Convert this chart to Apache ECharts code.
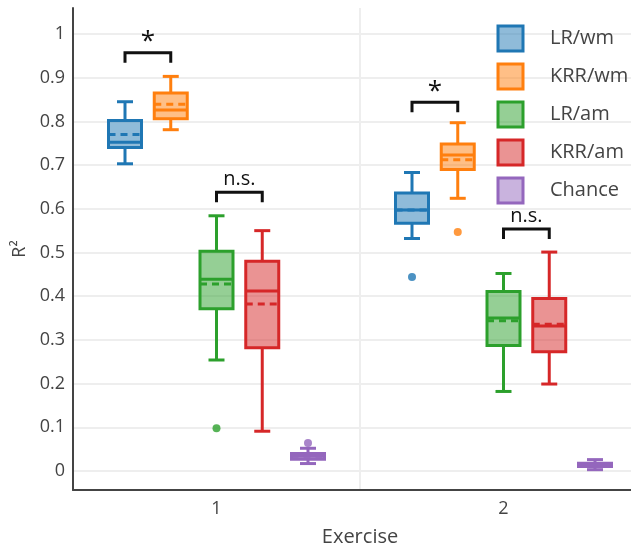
<!DOCTYPE html>
<html>
<head>
<meta charset="utf-8">
<script src="https://cdn.jsdelivr.net/npm/echarts@6/dist/echarts.min.js"></script>
<style>
  html, body { margin: 0; padding: 0; background: #fff; }
  #main { width: 631px; height: 548px; }
</style>
</head>
<body>
<div id="main"></div>
<script>
// exercises on the x axis
var categories = ['1', '2'];
var seriesNames = ['LR/wm', 'KRR/wm', 'LR/am', 'KRR/am', 'Chance'];

// box stats per exercise: [min, q1, median, q3, max]
var lrWm   = [[0.703, 0.740, 0.752, 0.802, 0.845], [0.532, 0.567, 0.597, 0.636, 0.683]];
var krrWm  = [[0.781, 0.806, 0.826, 0.865, 0.903], [0.624, 0.690, 0.723, 0.748, 0.797]];
var lrAm   = [[0.254, 0.371, 0.439, 0.503, 0.584], [0.182, 0.287, 0.350, 0.411, 0.452]];
var krrAm  = [[0.091, 0.282, 0.412, 0.480, 0.550], [0.199, 0.273, 0.332, 0.395, 0.501]];
var chance = [[0.017, 0.027, 0.034, 0.040, 0.052], [0.003, 0.010, 0.014, 0.018, 0.026]];

// means (dashed line)
var lrWmMean   = [0.770, 0.597];
var krrWmMean  = [0.839, 0.712];
var lrAmMean   = [0.428, 0.344];
var krrAmMean  = [0.382, 0.336];
var chanceMean = [0.034, 0.014];

// outliers: [exercise index, value]
var lrWmOut   = [[1, 0.444]];
var krrWmOut  = [[1, 0.547]];
var lrAmOut   = [[0, 0.098]];
var krrAmOut  = [];
var chanceOut = [[0, 0.064]];

// significance brackets
var bracketCat  = [0, 0, 1, 1];
var bracketFrom = [0, 2, 0, 2];
var bracketTo   = [1, 3, 1, 3];
var bracketY    = [0.957, 0.638, 0.844, 0.554];
var bracketText = ['*', 'n.s.', '*', 'n.s.'];

var colors = ['#1f77b4', '#ff7f0e', '#2ca02c', '#d62728', '#9467bd'];
var fills = ['rgba(31,119,180,0.5)', 'rgba(255,127,14,0.5)', 'rgba(44,160,44,0.5)',
             'rgba(214,39,40,0.5)', 'rgba(148,103,189,0.5)'];
var statsList = [lrWm, krrWm, lrAm, krrAm, chance];
var meanList = [lrWmMean, krrWmMean, lrAmMean, krrAmMean, chanceMean];
var outList = [lrWmOut, krrWmOut, lrAmOut, krrAmOut, chanceOut];

var FONT = '"Open Sans", "DejaVu Sans", sans-serif';
var step = 45.75;   // px between boxes in a group
var boxW = 16.5;    // half box width
var capW = 8;       // half cap width

var myChart = echarts.init(document.getElementById('main'));

function boxSeries(k) {
    var color = colors[k];
    return {
        name: seriesNames[k],
        type: 'custom',
        z: 3,
        data: statsList[k].map(function (s, i) {
            return [i].concat(s, [meanList[k][i]]);
        }),
        encode: { x: 0, y: [1, 2, 3, 4, 5, 6] },
        renderItem: function (params, api) {
            var cat = api.value(0);
            var x = api.coord([cat, 0])[0] + (k - 2) * step;
            var y = function (d) { return api.coord([cat, api.value(d)])[1]; };
            var yMin = y(1), yQ1 = y(2), yMed = y(3), yQ3 = y(4), yMax = y(5), yMean = y(6);
            var ls = { stroke: color, lineWidth: 3, fill: null };
            return {
                type: 'group',
                children: [
                    { type: 'line', shape: { x1: x, y1: yQ3, x2: x, y2: yMax }, style: ls },
                    { type: 'line', shape: { x1: x, y1: yQ1, x2: x, y2: yMin }, style: ls },
                    { type: 'line', shape: { x1: x - capW, y1: yMax, x2: x + capW, y2: yMax }, style: ls },
                    { type: 'line', shape: { x1: x - capW, y1: yMin, x2: x + capW, y2: yMin }, style: ls },
                    { type: 'rect', shape: { x: x - boxW, y: yQ3, width: 2 * boxW, height: yQ1 - yQ3 },
                      style: { fill: fills[k], stroke: color, lineWidth: 3 } },
                    { type: 'line', shape: { x1: x - boxW, y1: yMed, x2: x + boxW, y2: yMed }, style: ls },
                    { type: 'line', shape: { x1: x - boxW, y1: yMean, x2: x + boxW, y2: yMean },
                      style: { stroke: color, lineWidth: 3, lineDash: [7, 5], fill: null } }
                ]
            };
        }
    };
}

var series = [];
for (var k = 0; k < 5; k++) {
    series.push(boxSeries(k));
}
for (var k = 0; k < 5; k++) {
    series.push({
        name: seriesNames[k] + ' outliers',
        type: 'scatter',
        data: outList[k],
        symbol: 'circle',
        symbolSize: 8,
        symbolOffset: [(k - 2) * step, 0],
        itemStyle: { color: colors[k] },
        z: 4
    });
}

series.push({
    name: 'brackets',
    type: 'custom',
    z: 5,
    data: bracketCat.map(function (c, i) {
        return [c, bracketY[i], bracketFrom[i], bracketTo[i]];
    }),
    encode: { x: 0, y: 1 },
    renderItem: function (params, api) {
        var i = params.dataIndex;
        var cat = api.value(0);
        var p = api.coord([cat, api.value(1)]);
        var x1 = p[0] + (api.value(2) - 2) * step;
        var x2 = p[0] + (api.value(3) - 2) * step;
        var yt = p[1];
        var txt = bracketText[i];
        return {
            type: 'group',
            children: [
                { type: 'polyline',
                  shape: { points: [[x1, yt + 10], [x1, yt], [x2, yt], [x2, yt + 10]] },
                  style: { stroke: '#111', lineWidth: 3, fill: null } },
                { type: 'text',
                  style: {
                      text: txt,
                      x: (x1 + x2) / 2,
                      y: txt === '*' ? yt - 11 : yt - 13,
                      align: 'center',
                      verticalAlign: 'middle',
                      font: (txt === '*' ? '26px ' : '20px ') + FONT,
                      fill: '#111'
                  } }
            ]
        };
    }
});

var option = {
    animation: false,
    grid: { left: 73, top: 8, width: 574, height: 482, outerBoundsMode: 'none', containLabel: false },
    legend: {
        orient: 'vertical',
        left: 496.5,
        top: 24.5,
        padding: 0,
        itemWidth: 25,
        itemHeight: 25,
        itemGap: 10,
        textStyle: { fontSize: 20, color: '#444', fontFamily: FONT, padding: [0, 0, 0, 22] },
        data: seriesNames.map(function (n, k) {
            return { name: n, icon: 'rect',
                     itemStyle: { color: fills[k], borderColor: colors[k], borderWidth: 3 } };
        })
    },
    xAxis: {
        type: 'category',
        data: categories,
        name: 'Exercise',
        nameLocation: 'middle',
        nameGap: 37,
        nameTextStyle: { fontSize: 20, color: '#444', fontFamily: FONT },
        axisLine: { onZero: false, lineStyle: { color: '#444', width: 2 } },
        axisTick: { show: false },
        axisLabel: { fontSize: 18, color: '#444', fontFamily: FONT, margin: 10 },
        splitLine: { show: true, lineStyle: { color: '#eeeeee', width: 2 } }
    },
    yAxis: {
        type: 'value',
        min: -0.0435,
        max: 1.0595,
        splitNumber: 10,
        name: 'R²',
        nameLocation: 'middle',
        nameGap: 44,
        nameTextStyle: { fontSize: 18, color: '#444', fontFamily: FONT },
        axisLine: { show: true, onZero: false, lineStyle: { color: '#444', width: 2 } },
        axisTick: { show: false },
        axisLabel: { fontSize: 18, color: '#444', fontFamily: FONT, margin: 8,
                     showMinLabel: false, showMaxLabel: false },
        splitLine: { show: true, showMinLine: false, showMaxLine: false,
                     lineStyle: { color: '#eeeeee', width: 2 } }
    },
    series: series
};

myChart.setOption(option);
</script>
</body>
</html>
